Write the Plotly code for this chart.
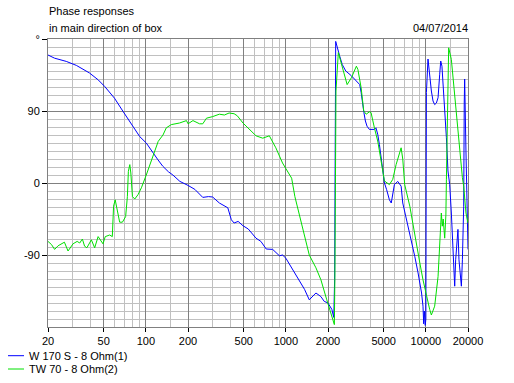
import plotly.graph_objects as go

# ---------------- data ----------------
w170_freq = [20, 22.3, 27, 31.9, 39.6, 45.6, 50.8, 59.7, 68.7, 78.8, 90.4, 100.7, 112, 122, 132, 145,
             156, 175, 200, 224, 255, 280, 300, 335, 385, 408, 427, 456, 494, 539, 612, 663, 724, 805,
             900, 947, 1000, 1160, 1250, 1360, 1470, 1550, 1640, 1780, 1880, 2000, 2130, 2200, 2230,
             2270, 2300, 2420, 2530, 2680, 2940, 3190, 3370, 3450, 3530, 3610, 3700, 3800, 3950, 4290,
             4400, 4530, 4660, 4790, 4920, 5060, 5240, 5490, 5660, 5800, 5960, 6300, 6660, 6840, 7200,
             7680, 8340, 8800, 9320, 9540, 9650, 9750, 9900, 10000, 10090, 10360, 10500, 10650, 10950,
             11250, 11560, 11890, 12220, 12560, 12770, 13030, 13400, 13630, 14020, 14390, 14800, 15210,
             15630, 16070, 16330, 16950, 17240, 17650, 17940, 18240, 18630, 18800, 18930, 19340, 19660,
             20000]
w170_phase = [160, 156, 152, 147, 137.5, 129, 120.7, 106, 89.5, 73, 58, 50, 37.5, 29, 21, 14,
              10, 2, -3, -8, -18, -17, -17.5, -25, -31, -46, -50, -48, -53.4, -57.5, -69, -73, -82.5, -83,
              -91, -90, -94, -112.5, -121, -133, -146, -142, -137.5, -142, -148, -150, -158, -168, -121,
              177, 173, 159, 148, 140, 134, 127.5, 123, 113, 98, 88, 77.5, 71, 67, 67,
              69, 61, 48, 31.6, 15, 0, -8, -21, -25, -12.5, -2, 2, -4, -25, -42,
              -62.5, -92, -112.5, -137.5, -154, -176, -160, -178, -170, 113, 155, 145, 136, 115,
              102.5, 98, 100, 106.6, 136, 152.5, 146, 115, 86, 56.6, 15, -2, -37.5,
              -87.5, -129, -96, -58, -96, -117, -129, -96, -29, 100, 130, 40, -20,
              -83]

tw70_freq = [20, 21.2, 22.3, 23.6, 26.2, 27.8, 30.2, 32.3, 33.7, 35.2, 36.5, 37.9, 40.8, 43.1, 45.6,
             47.5, 49.4, 51.3, 55.1, 57.6, 58.8, 60.4, 62.1, 65, 68, 71.7, 73.8, 75, 76.8, 78.1, 80.2,
             83.3, 87.9, 92.9, 100.7, 112, 122.5, 132.5, 140, 152, 174, 195, 200, 217, 242, 255, 271,
             300, 335, 364, 393, 427, 450, 494, 549, 612, 684, 762, 848, 947, 1000, 1100, 1160, 1320,
             1470, 1640, 1780, 1960, 2130, 2220, 2240, 2260, 2280, 2370, 2500, 2740, 2940, 3190, 3270,
             3450, 3600, 3750, 3950, 4060, 4290, 4530, 4660, 4920, 5060, 5490, 5800, 6130, 6480, 6660,
             6840, 6960, 7060, 7680, 8340, 9060, 9540, 10090, 10650, 10950, 11560, 12220, 12560, 12900,
             13100, 13300, 13630, 13900, 14020, 14390, 14550, 15210, 15630, 16070, 16500, 16950, 17400,
             17940, 18240, 18630, 18930, 19340, 20000]
tw70_phase = [-73, -77, -83, -78.5, -74, -85, -76, -73, -75, -70, -79, -81, -71, -81, -67,
              -71, -76, -67, -65, -67, -29, -21, -33, -49, -49, -42, -17, 14.5, 23, 12.5, -17,
              -20, -14.6, -6, 10, 33, 52, 60, 69, 73, 75, 78, 74, 78, 74, 74, 81,
              83, 86, 85, 87.5, 86.6, 84, 75, 66.6, 59, 56, 59, 44, 25, 18, 6, -17, -58,
              -90, -106, -121, -146, -167, -177, -118, -3, 115, 163, 148, 123, 131.6, 146, 142,
              119, 90, 86, 89, 88, 69, 52.5, 40, 11, 2.5, -2, 4.5, 23, 38, 44,
              30, 11, -2, -29, -67, -100, -121, -142, -158, -165, -154, -117, -79, -37.5,
              -54, -45, -69, -40, 4, 169, 169, 154.5, 131.6, 111, 81.6, 60.7, 40,
              19, 6.6, -4, -21, -37.5, -50]

x_ticks = [20, 50, 100, 200, 500, 1000, 2000, 5000, 10000, 20000]
x_tick_text = ["20", "50", "100", "200", "500", "1000", "2000", "5000", "10000", "20000"]
x_minor = [30, 40, 60, 70, 80, 90, 150, 300, 400, 600, 700, 800, 900, 1500, 3000, 4000,
           6000, 7000, 8000, 9000, 15000]
y_ticks = [-90, 0, 90, 180]
y_tick_text = ["-90", "0", "90", "°"]

series_names = ["W 170 S - 8 Ohm(1)", "TW 70 - 8 Ohm(2)"]
series_colors = ["#0000FF", "#00E000"]

FONT = "Liberation Sans, Arial, sans-serif"

fig = go.Figure()
fig.add_trace(go.Scatter(x=w170_freq, y=w170_phase, mode="lines", name=series_names[0],
                         line=dict(color=series_colors[0], width=1)))
fig.add_trace(go.Scatter(x=tw70_freq, y=tw70_phase, mode="lines", name=series_names[1],
                         line=dict(color=series_colors[1], width=1)))

L, T, W, H = 48, 39, 420, 288
fig.update_layout(
    width=514, height=383,
    margin=dict(l=L, r=514 - L - W, t=T, b=383 - T - H, pad=0),
    paper_bgcolor="white", plot_bgcolor="white",
    showlegend=False,
    font=dict(family=FONT, size=11, color="black"),
)
fig.update_xaxes(
    type="log", range=[1.30103, 4.30103],
    tickmode="array", tickvals=x_ticks, ticktext=x_tick_text,
    ticks="outside", ticklen=4, tickcolor="black", tickwidth=1,
    showgrid=True, gridcolor="#808080", gridwidth=1,
    minor=dict(tickvals=x_minor, showgrid=True, gridcolor="#C0C0C0", gridwidth=1, ticks=""),
    showline=True, linecolor="#808080", linewidth=1, mirror=True,
    zeroline=False, tickfont=dict(size=11, family=FONT),
)
fig.update_yaxes(
    range=[-180, 180],
    tickmode="array", tickvals=y_ticks, ticktext=y_tick_text,
    ticks="outside", ticklen=5, tickcolor="black", tickwidth=1,
    showgrid=True, gridcolor="#808080", gridwidth=1,
    minor=dict(tick0=0, dtick=10, showgrid=True, gridcolor="#C0C0C0", gridwidth=1, ticks=""),
    showline=True, linecolor="#808080", linewidth=1, mirror=True,
    zeroline=False, tickfont=dict(size=11, family=FONT),
)

def py2paper(py):
    return (T + H - py) / H

def px2paper(px):
    return (px - L) / W

anns = [
    dict(text="Phase responses", x=px2paper(47), y=py2paper(11), xanchor="left", yanchor="middle"),
    dict(text="in main direction of box", x=px2paper(47), y=py2paper(28), xanchor="left", yanchor="middle"),
    dict(text="04/07/2014", x=px2paper(470), y=py2paper(28), xanchor="right", yanchor="middle"),
]
legend_rows = [355.7, 369]
for name, color, row in zip(series_names, series_colors, legend_rows):
    anns.append(dict(text=name, x=px2paper(27), y=py2paper(row), xanchor="left", yanchor="middle"))
    fig.add_shape(type="line", xref="paper", yref="paper",
                  x0=px2paper(8), x1=px2paper(24), y0=py2paper(row), y1=py2paper(row),
                  line=dict(color=color, width=1))
for a in anns:
    a.update(xref="paper", yref="paper", showarrow=False,
             font=dict(family=FONT, size=11, color="black"))
fig.update_layout(annotations=anns)

fig.write_html("out.html", config={"displayModeBar": False},
               post_script="document.body.style.margin='0';document.body.style.padding='0';")
